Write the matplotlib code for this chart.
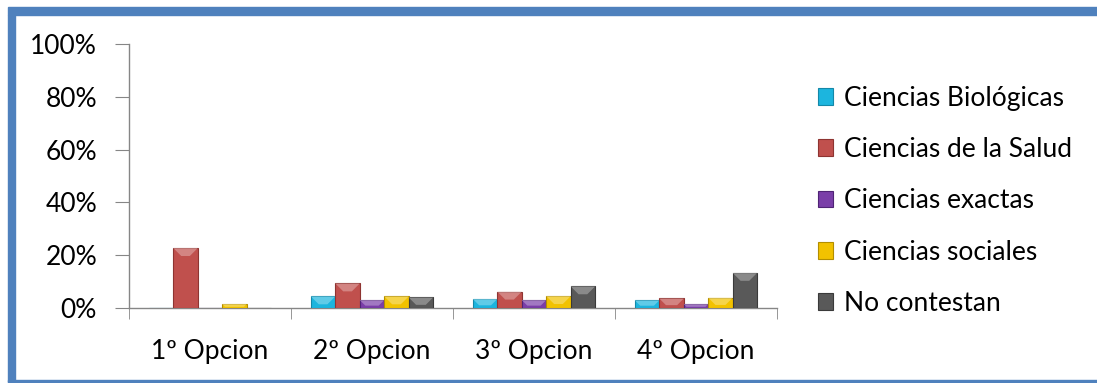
import numpy as np
import matplotlib.pyplot as plt
from matplotlib.patches import Polygon, Rectangle
from matplotlib.colors import to_rgb

# ---- data (percent of respondents) ----
opciones = ["1º Opcion", "2º Opcion", "3º Opcion", "4º Opcion"]
areas = ["Ciencias Biológicas", "Ciencias de la Salud", "Ciencias exactas",
         "Ciencias sociales", "No contestan"]
biologicas = [0.0, 4.4, 3.4, 2.9]
salud = [22.7, 9.3, 6.2, 3.6]
exactas = [0.0, 3.0, 3.0, 1.5]
sociales = [1.5, 4.4, 4.5, 3.9]
no_contestan = [0.0, 4.0, 8.2, 13.3]
series = [biologicas, salud, exactas, sociales, no_contestan]

colores = ["#1CB5DE", "#C0504D", "#7A3EA8", "#F2C200", "#595959"]
bordes = ["#1488A8", "#8E3431", "#4F2475", "#B38E00", "#3A3A3A"]

plt.rcParams['font.family'] = ['Lato', 'DejaVu Sans']
FS = 19

W, H, DPI = 1097, 383, 100
fig = plt.figure(figsize=(W / DPI, H / DPI), dpi=DPI)

# outer blue frame (left, top and a thin bottom line)
frame = "#4F81BD"
fig.patches.append(Rectangle((8 / W, 1 - 15 / H), 1.0, 8 / H,
                             transform=fig.transFigure, color=frame, zorder=0))
fig.patches.append(Rectangle((8 / W, 1 / H), 7 / W, 1 - 16 / H,
                             transform=fig.transFigure, color=frame, zorder=0))
fig.patches.append(Rectangle((8 / W, 1 / H), 1.0, 2 / H,
                             transform=fig.transFigure, color=frame, zorder=0))

# plot area
left, right, top, bottom = 129, 777, 44, 308
ax = fig.add_axes([left / W, 1 - bottom / H, (right - left) / W, (bottom - top) / H])

n = len(series)
bar_w = 0.151
x = np.arange(len(opciones))
px_per_pct = (bottom - top) / 100.0
px_per_cat = (right - left) / len(opciones)

for i, (vals, c, ec) in enumerate(zip(series, colores, bordes)):
    pos = x + (i - (n - 1) / 2) * bar_w
    bars = ax.bar(pos, vals, width=bar_w, color=c, edgecolor=ec,
                  linewidth=0.8, label=areas[i], zorder=3)
    hi = tuple(0.45 * np.array(to_rgb(c)) + 0.55)
    for b, v in zip(bars, vals):
        if v <= 0:
            continue
        x0 = b.get_x()
        x1 = x0 + b.get_width()
        dy = min(v * 0.7, 3.0)
        dx = dy * px_per_pct / px_per_cat
        ax.add_patch(Polygon([(x0, v), (x1, v), (x1 - dx, v - dy), (x0 + dx, v - dy)],
                             closed=True, color=hi, alpha=0.55, lw=0, zorder=4))

ax.set_xlim(-0.5, len(opciones) - 0.5)
ax.set_ylim(0, 100)
ax.set_yticks(np.arange(0, 101, 20))
ax.set_yticklabels([f"{v}%" for v in range(0, 101, 20)])
ax.set_xticks(x)
ax.set_xticklabels(opciones)
ax.set_xticks(np.arange(-0.5, len(opciones), 1.0), minor=True)

axis_col = "#868686"
for s in ["top", "right"]:
    ax.spines[s].set_visible(False)
for s in ["left", "bottom"]:
    ax.spines[s].set_color(axis_col)
    ax.spines[s].set_linewidth(1.0)
ax.tick_params(axis="y", length=10, color=axis_col, labelsize=FS, pad=13)
ax.tick_params(axis="x", which="major", length=0, labelsize=FS, pad=22)
ax.tick_params(axis="x", which="minor", length=8, color=axis_col)

ax.legend(loc="upper left", bbox_to_anchor=(807 / W, 1 - 75 / H),
          bbox_transform=fig.transFigure, frameon=False, fontsize=FS,
          handlelength=0.6, handleheight=0.6, handletextpad=0.4,
          labelspacing=1.0, borderaxespad=0)

fig.savefig("out.png", dpi=DPI)
